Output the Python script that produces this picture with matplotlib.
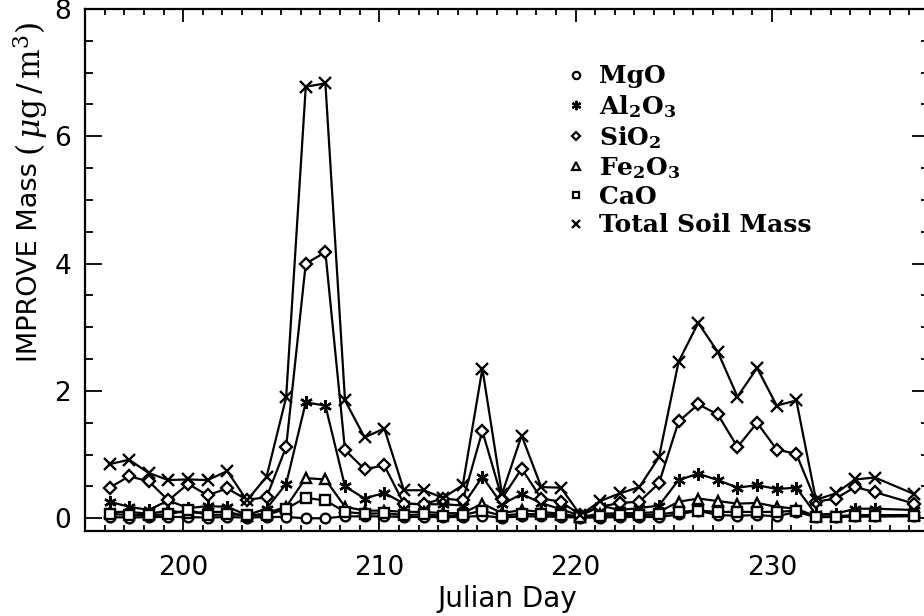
import numpy as np
import matplotlib
matplotlib.use("Agg")
import matplotlib.pyplot as plt
from matplotlib.lines import Line2D
from matplotlib.ticker import MultipleLocator

plt.rcParams['mathtext.fontset'] = 'dejavuserif'

# Julian day of each IMPROVE sample (no sample on day 236)
sample_days = [196, 197, 198, 199, 200, 201, 202, 203, 204, 205,
               206, 207, 208, 209, 210, 211, 212, 213, 214, 215,
               216, 217, 218, 219, 220, 221, 222, 223, 224, 225,
               226, 227, 228, 229, 230, 231, 232, 233, 234, 235, 237]
# samples are plotted a quarter day after the day boundary
days = np.array(sample_days) + 0.25

mgo = [0.02, 0.01, 0.02, 0.02, 0.02, 0.01, 0.02, 0.01, 0.02, 0.02,
       0.00, 0.00, 0.03, 0.03, 0.03, 0.02, 0.02, 0.02, 0.02, 0.04,
       0.01, 0.03, 0.03, 0.02, 0.01, 0.01, 0.02, 0.02, 0.02, 0.06,
       0.12, 0.05, 0.04, 0.05, 0.03, 0.10, 0.02, 0.02, 0.03, 0.03, 0.03]
al2o3 = [0.26, 0.18, 0.13, 0.28, 0.16, 0.19, 0.18, 0.05, 0.15, 0.54,
         1.82, 1.77, 0.50, 0.31, 0.40, 0.23, 0.22, 0.22, 0.20, 0.65,
         0.22, 0.38, 0.24, 0.14, 0.04, 0.20, 0.13, 0.16, 0.20, 0.60,
         0.70, 0.60, 0.48, 0.52, 0.46, 0.48, 0.06, 0.07, 0.15, 0.15, 0.13]
sio2 = [0.48, 0.66, 0.58, 0.28, 0.54, 0.36, 0.47, 0.29, 0.33, 1.12,
        4.00, 4.18, 1.07, 0.77, 0.83, 0.23, 0.22, 0.31, 0.28, 1.37,
        0.31, 0.78, 0.31, 0.26, 0.05, 0.18, 0.24, 0.26, 0.55, 1.52,
        1.79, 1.63, 1.12, 1.50, 1.08, 1.01, 0.26, 0.31, 0.49, 0.41, 0.23]
fe2o3 = [0.10, 0.10, 0.07, 0.12, 0.08, 0.10, 0.10, 0.03, 0.08, 0.18,
         0.63, 0.61, 0.18, 0.12, 0.12, 0.10, 0.10, 0.08, 0.08, 0.23,
         0.08, 0.13, 0.10, 0.07, 0.02, 0.07, 0.08, 0.08, 0.10, 0.26,
         0.31, 0.27, 0.23, 0.24, 0.18, 0.15, 0.03, 0.03, 0.05, 0.05, 0.05]
cao = [0.07, 0.05, 0.05, 0.06, 0.13, 0.05, 0.06, 0.05, 0.05, 0.15,
       0.32, 0.28, 0.10, 0.07, 0.08, 0.05, 0.06, 0.04, 0.05, 0.12,
       0.04, 0.07, 0.06, 0.05, 0.02, 0.04, 0.05, 0.05, 0.06, 0.10,
       0.12, 0.10, 0.10, 0.10, 0.10, 0.12, 0.02, 0.02, 0.03, 0.03, 0.04]
total_soil = [0.85, 0.92, 0.71, 0.60, 0.61, 0.60, 0.74, 0.28, 0.65, 1.90,
              6.78, 6.83, 1.85, 1.27, 1.41, 0.44, 0.44, 0.32, 0.52, 2.35,
              0.38, 1.30, 0.49, 0.48, 0.05, 0.27, 0.39, 0.49, 0.96, 2.46,
              3.07, 2.61, 1.91, 2.36, 1.77, 1.85, 0.29, 0.39, 0.61, 0.64, 0.38]

labels = ['MgO', r'Al$_\mathbf{2}$O$_\mathbf{3}$', r'SiO$_\mathbf{2}$',
          r'Fe$_\mathbf{2}$O$_\mathbf{3}$', 'CaO', 'Total Soil Mass']
series = [mgo, al2o3, sio2, fe2o3, cao, total_soil]
markers = ['o', (6, 2, 0), 'D', '^', 's', 'x']
sizes = [7, 9, 6, 7.5, 6.5, 8.5]

fig = plt.figure(figsize=(9.24, 6.16), dpi=100)
ax = fig.add_axes([0.092, 0.138, 0.9132, 0.8474])

for vals, m, ms in zip(series, markers, sizes):
    ax.plot(days, vals, color='black', lw=1.6, marker=m, ms=ms,
            mfc='white', mec='black', mew=1.7)

ax.set_xlim(195, 238)
ax.set_ylim(-0.2, 8)
ax.xaxis.set_major_locator(MultipleLocator(10))
ax.xaxis.set_minor_locator(MultipleLocator(1))
ax.yaxis.set_major_locator(MultipleLocator(2))
ax.yaxis.set_minor_locator(MultipleLocator(0.5))
ax.tick_params(which='both', direction='in', top=True, right=True,
               width=1.3, labelsize=19)
ax.tick_params(axis='x', which='major', length=9, pad=17)
ax.tick_params(axis='x', which='minor', length=4.5)
ax.tick_params(axis='y', which='major', length=12, pad=10)
ax.tick_params(axis='y', which='minor', length=6)
for sp in ax.spines.values():
    sp.set_linewidth(1.6)

ax.set_xlabel('Julian Day', fontsize=20, labelpad=3)

# y-axis title: sans name with a larger serif unit above it
fig.text(30 / 924, 1 - 262 / 616, 'IMPROVE Mass', rotation=90, fontsize=19.5,
         ha='center', va='center')
fig.text(31 / 924, 1 - 89 / 616, r'$(\,\mu\mathrm{g}\,/\,\mathrm{m}^3)$',
         rotation=90, fontsize=22.5, ha='center', va='center')

handles = [Line2D([], [], color='black', ls='none', marker=m, ms=ms * 0.75,
                  mfc='white', mec='black', mew=1.6)
           for m, ms in zip(markers, sizes)]
ax.legend(handles, labels, loc='upper left', bbox_to_anchor=(555 / 924, 1 - 52 / 616),
          bbox_transform=fig.transFigure, frameon=False, borderpad=0,
          handlelength=0.7, handletextpad=0.55, labelspacing=0.17,
          prop={'family': 'DejaVu Serif', 'weight': 'bold', 'size': 18})

fig.savefig('out.png', dpi=100)
